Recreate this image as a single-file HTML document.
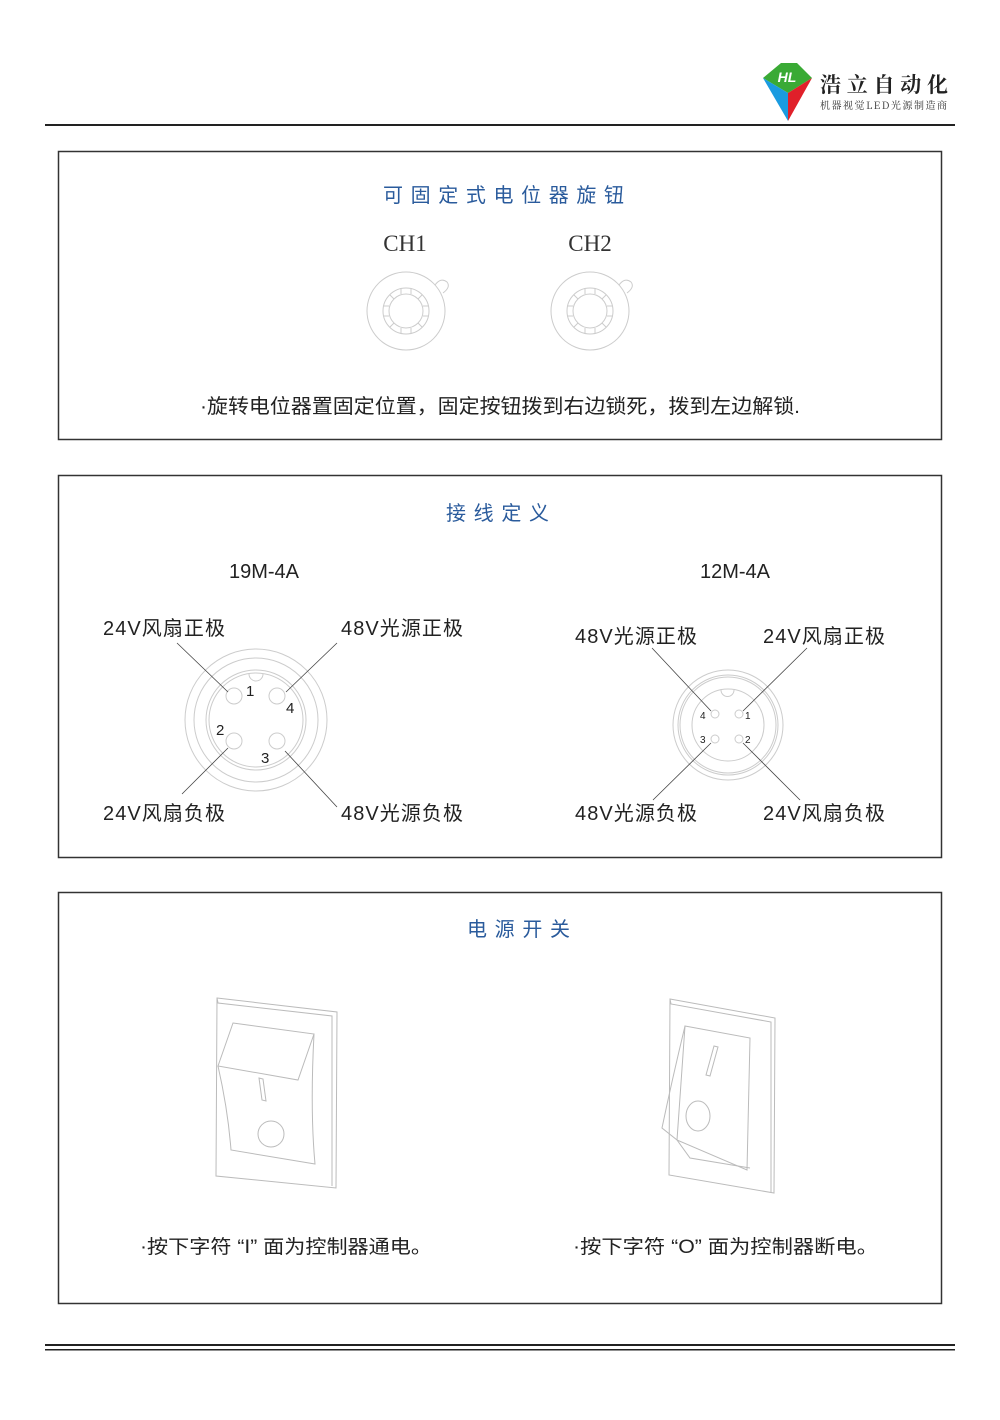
<!DOCTYPE html>
<html><head><meta charset="utf-8"><style>
body{margin:0;background:#fff}
svg text{font-family:"Liberation Sans","Noto Sans CJK SC",sans-serif}
</style></head><body>
<svg width="1000" height="1415" viewBox="0 0 1000 1415" xmlns="http://www.w3.org/2000/svg">
<rect width="1000" height="1415" fill="#fff"/>
<!-- logo -->
<polygon points="763,78 781,63 797,63 812,78 788,93" fill="#3aaa35"/>
<polygon points="763,78 788,93 788,121" fill="#1a9be0"/>
<polygon points="812,78 788,93 788,121" fill="#e0202a"/>
<text x="787" y="82" font-size="14" font-weight="bold" fill="#fff" text-anchor="middle" font-style="italic">HL</text>
<text x="820" y="92" font-size="21" font-weight="bold" fill="#222" textLength="128" lengthAdjust="spacing" style="font-family:'Noto Serif CJK SC','Noto Sans CJK SC',serif">浩立自动化</text>
<text x="820" y="109" font-size="10" fill="#333" textLength="127" lengthAdjust="spacing" style="font-family:'Noto Serif CJK SC','Liberation Serif',serif">机器视觉LED光源制造商</text>
<rect x="45" y="124" width="910" height="2" fill="#222"/>
<!-- boxes -->
<g fill="none" stroke="#333" stroke-width="1.5">
<rect x="58.5" y="151.5" width="883" height="288"/>
<rect x="58.5" y="475.5" width="883" height="382"/>
<rect x="58.5" y="892.5" width="883" height="411"/>
</g>
<rect x="45" y="1344" width="910" height="2" fill="#222"/>
<rect x="45" y="1349" width="910" height="1.5" fill="#222"/>
<!-- section1 -->
<text x="383" y="202" font-size="20" fill="#2a5b9c" textLength="241" lengthAdjust="spacing">可固定式电位器旋钮</text>
<text x="405" y="251" font-size="23" fill="#333" text-anchor="middle" style="font-family:'Liberation Serif',serif">CH1</text>
<text x="590" y="251" font-size="23" fill="#333" text-anchor="middle" style="font-family:'Liberation Serif',serif">CH2</text>
<g fill="none" stroke="#ccc" stroke-width="1">
<g transform="translate(406,311)">
<circle r="39"/><circle r="23"/><circle r="17"/>
<path d="M29,-26 q6,-8 12,-3 q4,5 -4,11"/>
<path d="M-5,-23 v6 M5,-23 v6 M-5,23 v-6 M5,23 v-6 M-23,-5 h6 M-23,5 h6 M23,-5 h-6 M23,5 h-6 M-16,-16 l4,4 M16,-16 l-4,4 M-16,16 l4,-4 M16,16 l-4,-4"/>
</g>
<g transform="translate(590,311)">
<circle r="39"/><circle r="23"/><circle r="17"/>
<path d="M29,-26 q6,-8 12,-3 q4,5 -4,11"/>
<path d="M-5,-23 v6 M5,-23 v6 M-5,23 v-6 M5,23 v-6 M-23,-5 h6 M-23,5 h6 M23,-5 h-6 M23,5 h-6 M-16,-16 l4,4 M16,-16 l-4,4 M-16,16 l4,-4 M16,16 l-4,-4"/>
</g>
</g>
<text x="200" y="413" font-size="20" fill="#222" textLength="600" lengthAdjust="spacingAndGlyphs">·旋转电位器置固定位置，固定按钮拨到右边锁死，拨到左边解锁.</text>
<!-- section2 -->
<text x="446" y="520" font-size="20" fill="#2a5b9c" textLength="103" lengthAdjust="spacing">接线定义</text>
<text x="264" y="578" font-size="20" fill="#222" text-anchor="middle">19M-4A</text>
<text x="735" y="578" font-size="20" fill="#222" text-anchor="middle">12M-4A</text>
<g font-size="20" fill="#222" lengthAdjust="spacingAndGlyphs">
<text x="103" y="635" textLength="122">24V风扇正极</text>
<text x="341" y="635" textLength="122">48V光源正极</text>
<text x="103" y="820" textLength="122">24V风扇负极</text>
<text x="341" y="820" textLength="122">48V光源负极</text>
<text x="575" y="643" textLength="122">48V光源正极</text>
<text x="763" y="643" textLength="122">24V风扇正极</text>
<text x="575" y="820" textLength="122">48V光源负极</text>
<text x="763" y="820" textLength="122">24V风扇负极</text>
</g>
<g fill="none" stroke="#ccc" stroke-width="1">
<circle cx="256" cy="720" r="71"/><circle cx="256" cy="720" r="62"/><circle cx="256" cy="720" r="50"/><circle cx="256" cy="720" r="47"/>
<path d="M249,674 a7,7 0 0 0 14,0"/>
<circle cx="234" cy="696" r="8"/><circle cx="277" cy="696" r="8"/><circle cx="234" cy="741" r="8"/><circle cx="277" cy="741" r="8"/>
<circle cx="728" cy="725" r="55"/><circle cx="728" cy="725" r="50"/><circle cx="728" cy="725" r="48"/><circle cx="728" cy="725" r="36"/>
<path d="M721,690 a6,6 0 0 0 13,0"/>
<circle cx="715" cy="714" r="4"/><circle cx="739" cy="714" r="4"/><circle cx="715" cy="739" r="4"/><circle cx="739" cy="739" r="4"/>
</g>
<g stroke="#444" stroke-width="0.8">
<line x1="177" y1="643" x2="228" y2="692"/><line x1="337" y1="643" x2="286" y2="692"/>
<line x1="182" y1="794" x2="228" y2="748"/><line x1="337" y1="807" x2="285" y2="751"/>
<line x1="652" y1="648" x2="711" y2="711"/><line x1="807" y1="648" x2="743" y2="711"/>
<line x1="653" y1="800" x2="711" y2="743"/><line x1="800" y1="800" x2="743" y2="743"/>
</g>
<g font-size="15" fill="#222">
<text x="246" y="696">1</text><text x="286" y="713">4</text><text x="216" y="735">2</text><text x="261" y="763">3</text>
</g>
<g font-size="10" fill="#222">
<text x="700" y="719">4</text><text x="745" y="719">1</text><text x="700" y="743">3</text><text x="745" y="743">2</text>
</g>
<!-- section3 -->
<text x="467" y="936" font-size="20" fill="#2a5b9c" textLength="103" lengthAdjust="spacing">电源开关</text>
<g fill="none" stroke="#bbb" stroke-width="1">
<polygon points="217,998 337,1012 336,1188 216,1176"/>
<polyline points="217,998 218,1003 332,1016 332,1186"/>
<polygon points="233,1023 314,1034 298,1080 218,1066"/>
<path d="M218,1066 Q228,1110 231,1150 L315,1164 Q310,1110 314,1034"/>
<polygon points="259,1078 263,1079 266,1101 262,1100"/>
<circle cx="271" cy="1134" r="13"/>
<polygon points="670,999 775,1018 774,1193 669,1175"/>
<polyline points="670,999 671,1004 771,1022 771,1192"/>
<polygon points="685,1026 750,1038 747,1170 677,1140"/>
<path d="M685,1026 Q672,1080 662,1128 L677,1140 L690,1158 L750,1168"/>
<polygon points="714,1046 718,1047 710,1076 706,1075"/>
<ellipse cx="698" cy="1116" rx="12" ry="15"/>
</g>
<text x="140" y="1253" font-size="19" fill="#222" textLength="292" lengthAdjust="spacingAndGlyphs">·按下字符 “I” 面为控制器通电。</text>
<text x="573" y="1253" font-size="19" fill="#222" textLength="305" lengthAdjust="spacingAndGlyphs">·按下字符 “O” 面为控制器断电。</text>
</svg>
</body></html>
